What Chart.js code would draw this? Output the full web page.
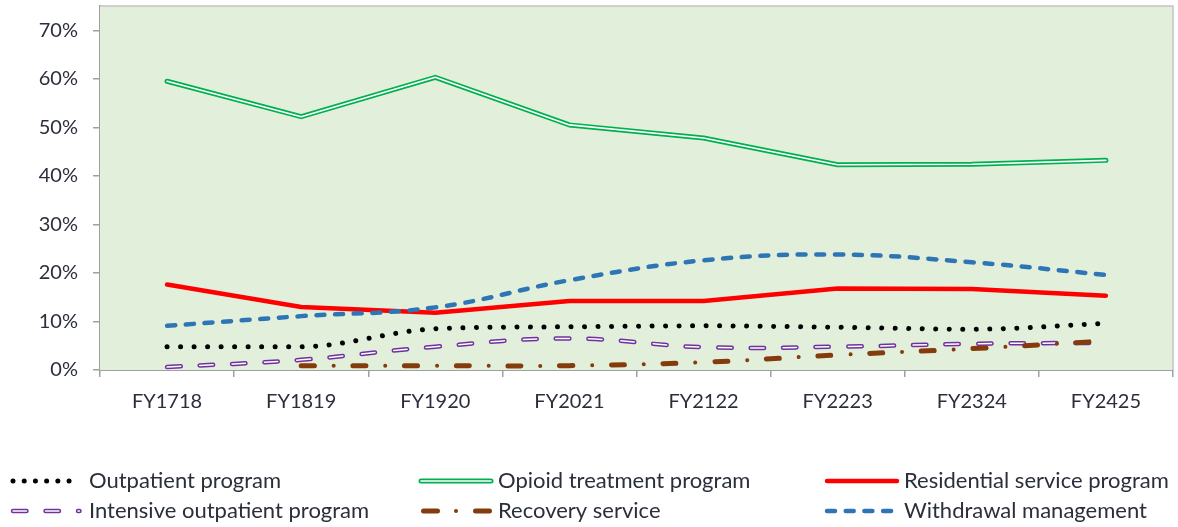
<!DOCTYPE html>
<html>
<head>
<meta charset="utf-8">
<script src="https://cdn.jsdelivr.net/npm/chart.js@4.4.1/dist/chart.umd.min.js"></script>
<style>
  html, body { margin: 0; padding: 0; background: #ffffff; }
  #wrap { position: relative; width: 1178px; height: 527px; }
</style>
</head>
<body>
<div id="wrap"><canvas id="c"></canvas></div>
<script>
// ---- data ----
const categories = ["FY1718", "FY1819", "FY1920", "FY2021", "FY2122", "FY2223", "FY2324", "FY2425"];
const seriesNames = ["Outpatient program", "Opioid treatment program", "Residential service program",
                     "Intensive outpatient program", "Recovery service", "Withdrawal management"];
const outpatient  = [4.8, 4.8, 8.5, 8.9, 9.1, 8.8, 8.4, 9.6];
const opioid      = [59.5, 52.2, 60.3, 50.5, 47.8, 42.3, 42.4, 43.2];
const residential = [17.6, 13.0, 11.8, 14.2, 14.2, 16.8, 16.7, 15.3];
const intensive   = [0.6, 2.1, 4.8, 6.5, 4.7, 4.8, 5.4, 5.6];
const recovery    = [null, 0.9, 0.9, 0.9, 1.6, 3.1, 4.4, 6.0];
const withdrawal  = [9.1, 11.1, 12.9, 18.5, 22.6, 23.8, 22.2, 19.6];
const yTickValues = [0, 10, 20, 30, 40, 50, 60, 70];

// ---- styles (kept separate from data) ----
const seriesData = [outpatient, opioid, residential, intensive, recovery, withdrawal];
const seriesStyle = [
  { tension: 0.4, mode: 'monotone', order: 60, passes: [{ color: '#000000', width: 5, dash: [0.01, 13.5], cap: 'round' }],
    legendPasses: [{ color: '#000000', width: 5, dash: [0.01, 11.2], cap: 'round' }], legendX1: 70 },
  { tension: 0, order: 50, passes: [{ color: '#00B050', width: 5, cap: 'round' }, { color: '#ffffff', width: 1.6, cap: 'round' }] },
  { tension: 0, order: 40, passes: [{ color: '#FF0000', width: 4.5, cap: 'round' }] },
  { tension: 0.4, order: 30, passes: [{ color: '#7030A0', width: 4.5, dash: [13.5, 19], cap: 'round' }, { color: '#ffffff', width: 1.5, dash: [13.5, 19], cap: 'round' }],
    legendX1: 79.5 },
  { tension: 0.4, order: 20, passes: [{ color: '#843C0C', width: 5, dash: [13, 38.7], cap: 'round' }, { color: '#843C0C', width: 4, dash: [0.01, 51.7], offset: 19.35, cap: 'round' }],
    legendPasses: [{ color: '#843C0C', width: 5, dash: [14, 38], offset: -2.5, cap: 'round' }, { color: '#843C0C', width: 4, dash: [0.01, 60], offset: -35, cap: 'round' }] },
  { tension: 0.4, order: 10, passes: [{ color: '#2E75B6', width: 4.5, dash: [8, 10.7], cap: 'round' }] }
];
const legendCols = [{ x0: 13, x1: 78, tx: 89 }, { x0: 421, x1: 491, tx: 498 }, { x0: 827, x1: 897, tx: 904 }];
const legendRows = [481, 511];
const FONT = "Lato, 'Open Sans', sans-serif";
const TEXT = '#2a2f3a';

const datasets = [];
seriesData.forEach((arr, si) => {
  const st = seriesStyle[si];
  st.passes.forEach((p, pi) => {
    datasets.push({
      label: pi === 0 ? seriesNames[si] : seriesNames[si] + ' (overlay)',
      data: arr,
      borderColor: p.color,
      backgroundColor: p.color,
      borderWidth: p.width,
      borderDash: p.dash || [],
      borderDashOffset: p.offset || 0,
      borderCapStyle: p.cap || 'butt',
      borderJoinStyle: 'round',
      pointRadius: 0,
      pointHoverRadius: 0,
      tension: st.tension,
      cubicInterpolationMode: st.mode || 'default',
      fill: false,
      spanGaps: false,
      order: st.order - pi
    });
  });
});

const plotFrame = {
  id: 'plotFrame',
  beforeDatasetsDraw(chart) {
    const { ctx, chartArea: a } = chart;
    ctx.save();
    ctx.fillStyle = '#E2EFDA';
    ctx.fillRect(a.left, a.top, a.right - a.left, a.bottom - a.top);
    ctx.strokeStyle = '#c4c4c4';
    ctx.lineWidth = 1.5;
    ctx.beginPath();
    ctx.moveTo(a.left, a.top);
    ctx.lineTo(a.right, a.top);
    ctx.lineTo(a.right, a.bottom);
    ctx.stroke();
    ctx.restore();
  }
};

const customLegend = {
  id: 'customLegend',
  afterDraw(chart) {
    const ctx = chart.ctx;
    ctx.save();
    seriesNames.forEach((name, i) => {
      const col = legendCols[i % 3];
      const y = legendRows[Math.floor(i / 3)];
      const st = seriesStyle[i];
      const passes = st.legendPasses || st.passes;
      const x1 = st.legendX1 || col.x1;
      passes.forEach(p => {
        ctx.beginPath();
        ctx.strokeStyle = p.color;
        ctx.lineWidth = p.width;
        ctx.lineCap = p.cap || 'butt';
        ctx.setLineDash(p.dash || []);
        ctx.lineDashOffset = p.offset || 0;
        ctx.moveTo(col.x0, y);
        ctx.lineTo(x1, y);
        ctx.stroke();
      });
      ctx.setLineDash([]);
      ctx.fillStyle = TEXT;
      ctx.font = "22px " + FONT;
      ctx.textBaseline = 'middle';
      ctx.textAlign = 'left';
      ctx.fillText(name, col.tx, y);
    });
    ctx.restore();
  }
};

new Chart(document.getElementById('c'), {
  type: 'line',
  data: { labels: categories, datasets },
  options: {
    responsive: true,
    maintainAspectRatio: false,
    animation: false,
    layout: { padding: { left: 0, top: 6, right: 5, bottom: 100 } },
    plugins: { legend: { display: false }, tooltip: { enabled: false } },
    scales: {
      x: {
        offset: true,
        grid: { offset: true, drawOnChartArea: false, drawTicks: true, tickLength: 7, color: '#a0a0a0', lineWidth: 1.5 },
        border: { display: true, color: '#a0a0a0', width: 2 },
        ticks: { color: TEXT, font: { family: FONT, size: 20 }, padding: 13, maxRotation: 0 },
        afterFit(s) { s.height = 57; s.paddingLeft = 0; s.paddingRight = 0; }
      },
      y: {
        min: 0, max: 75,
        grid: { drawOnChartArea: false, drawTicks: true, tickLength: 7, color: '#a0a0a0', lineWidth: 1.5 },
        border: { display: true, color: '#a0a0a0', width: 2 },
        ticks: { stepSize: 10, color: TEXT, font: { family: FONT, size: 20 }, padding: 15, callback: v => v + '%' },
        afterBuildTicks(s) { s.ticks = yTickValues.map(v => ({ value: v })); },
        afterFit(s) { s.width = 100; s.paddingTop = 0; s.paddingBottom = 0; }
      }
    }
  },
  plugins: [plotFrame, customLegend]
});
</script>
</body>
</html>
